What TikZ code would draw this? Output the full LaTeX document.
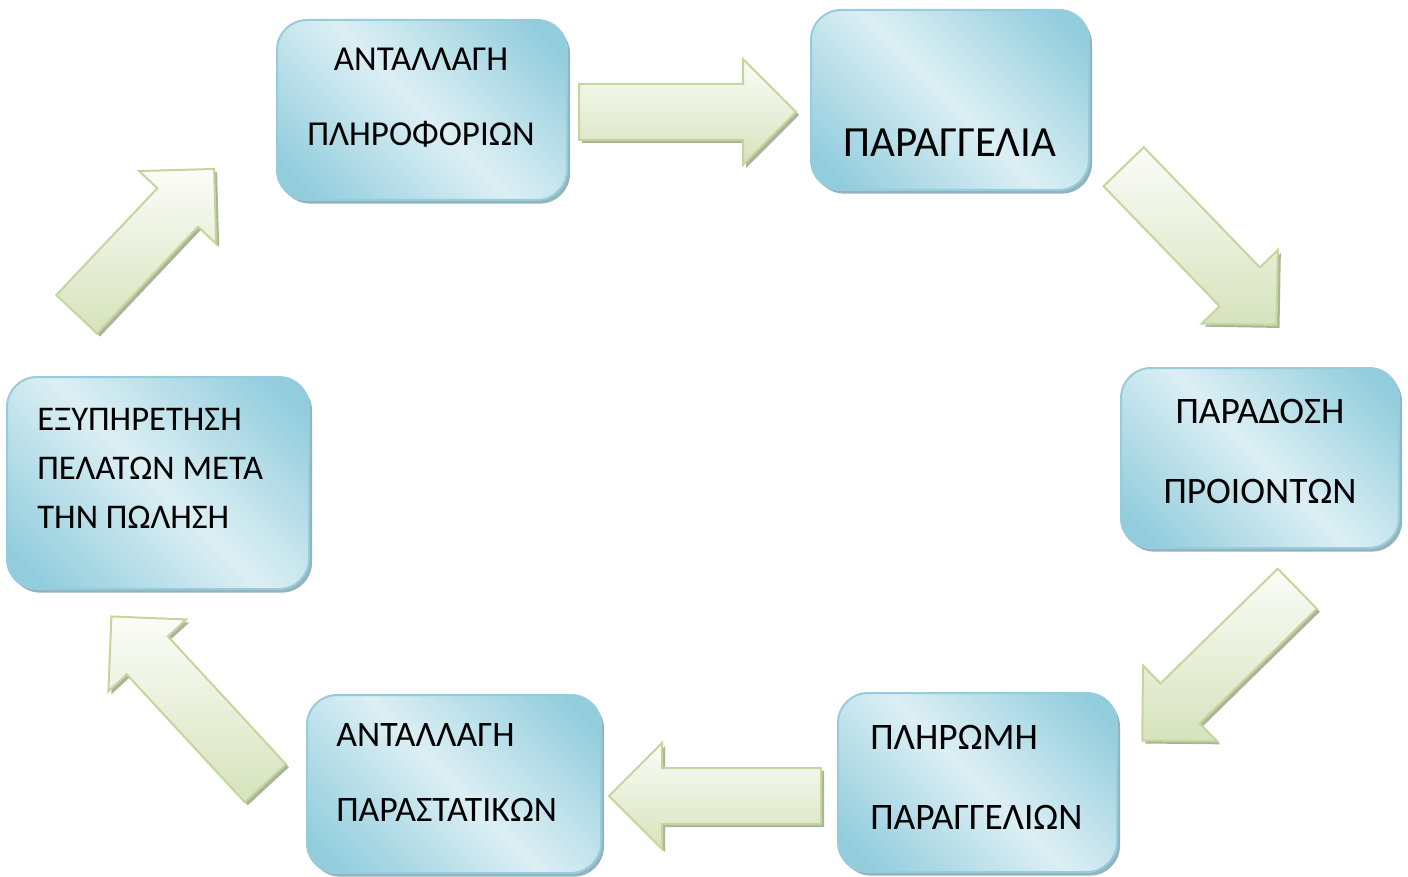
\documentclass[tikz,border=0pt]{standalone}
\usepackage{fontspec}
\setmainfont{Carlito}
\usetikzlibrary{shapes.arrows,shadows}

\definecolor{stagedark}{RGB}{146,205,221}
\definecolor{stagelight}{RGB}{220,239,244}
\definecolor{stageline}{RGB}{150,204,220}
\definecolor{stageshadow}{RGB}{120,160,172}
\definecolor{flowtop}{RGB}{251,252,248}
\definecolor{flowbot}{RGB}{214,227,188}
\definecolor{flowline}{RGB}{195,214,155}
\definecolor{flowshadow}{RGB}{150,160,130}

\pgfdeclarehorizontalshading{stageshade}{100bp}{color(0bp)=(stagedark); color(20bp)=(stagedark); color(50bp)=(stagelight); color(80bp)=(stagedark); color(100bp)=(stagedark)}

\begin{document}
\begin{tikzpicture}[x=0.5pt,y=-0.5pt,
    % define styles
    stage/.style={
        draw=stageline,
        line width=1pt,
        rounded corners=15pt,
        shading=stageshade,
        shading angle=45,
        inner sep=0pt,
        drop shadow={shadow xshift=1.5pt,shadow yshift=-1.8pt,fill=stageshadow,opacity=0.8}
    },
    flow/.style={
        single arrow,
        anchor=tail,
        draw=flowline,
        line width=1pt,
        top color=flowtop,
        bottom color=flowbot,
        inner xsep=0pt,
        inner ysep=13.5pt,
        minimum width=52pt,
        single arrow head extend=12.5pt,
        drop shadow={shadow xshift=1.5pt,shadow yshift=-1.5pt,fill=flowshadow,opacity=0.8}
    },
    txt/.style={
        font=\fontsize{17.5}{37.5}\selectfont,
        inner sep=0pt
    }
]
\useasboundingbox (0,0) rectangle (1408,877);

% the six stages
\node[stage,minimum width=145pt,minimum height=90pt] (info) at (422,110) {};
\node[stage,minimum width=139pt,minimum height=90pt] (order) at (950,100) {};
\node[stage,minimum width=139pt,minimum height=90pt] (deliver) at (1260,458) {};
\node[stage,minimum width=139.5pt,minimum height=89.5pt] (pay) at (977.5,782.5) {};
\node[stage,minimum width=147pt,minimum height=89pt] (docs) at (454,784) {};
\node[stage,minimum width=151pt,minimum height=106pt] (care) at (158,483) {};

% texts
\node[txt,align=center] (infotxt) at (421,97.5) {ΑΝΤΑΛΛΑΓΗ\\ΠΛΗΡΟΦΟΡΙΩΝ};
\node[txt,font=\fontsize{21.5}{24}\selectfont] (ordertxt) at (950,143) {ΠΑΡΑΓΓΕΛΙΑ};
\node[txt,align=center,font=\fontsize{18.7}{40}\selectfont] (delivertxt) at (1260,451) {ΠΑΡΑΔΟΣΗ\\ΠΡΟΙΟΝΤΩΝ};
\node[txt,align=left,anchor=west,font=\fontsize{18.7}{40}\selectfont] (paytxt) at (870,777) {ΠΛΗΡΩΜΗ\\ΠΑΡΑΓΓΕΛΙΩΝ};
\node[txt,align=left,anchor=west,font=\fontsize{17.9}{37.5}\selectfont] (docstxt) at (336,773) {ΑΝΤΑΛΛΑΓΗ\\ΠΑΡΑΣΤΑΤΙΚΩΝ};
\node[txt,align=left,anchor=west,font=\fontsize{17.3}{24.5}\selectfont] (caretxt) at (37,468) {ΕΞΥΠΗΡΕΤΗΣΗ\\ΠΕΛΑΤΩΝ ΜΕΤΑ\\ΤΗΝ ΠΩΛΗΣΗ};

% block arrows between the stages
\node[flow,minimum height=108.5pt] (a1) at (578,112) {};
\node[flow,minimum height=110pt,rotate=-46] (a2) at (1123,166) {};
\node[flow,minimum height=108.5pt,rotate=-135.6] (a3) at (1298,588) {};
\node[flow,minimum height=106pt,rotate=180] (a4) at (822,796) {};
\node[flow,minimum height=113.5pt,rotate=132.7] (a5) at (266,784) {};
\node[flow,minimum height=100pt,rotate=46.6] (a6) at (76,315) {};
\end{tikzpicture}
\end{document}
